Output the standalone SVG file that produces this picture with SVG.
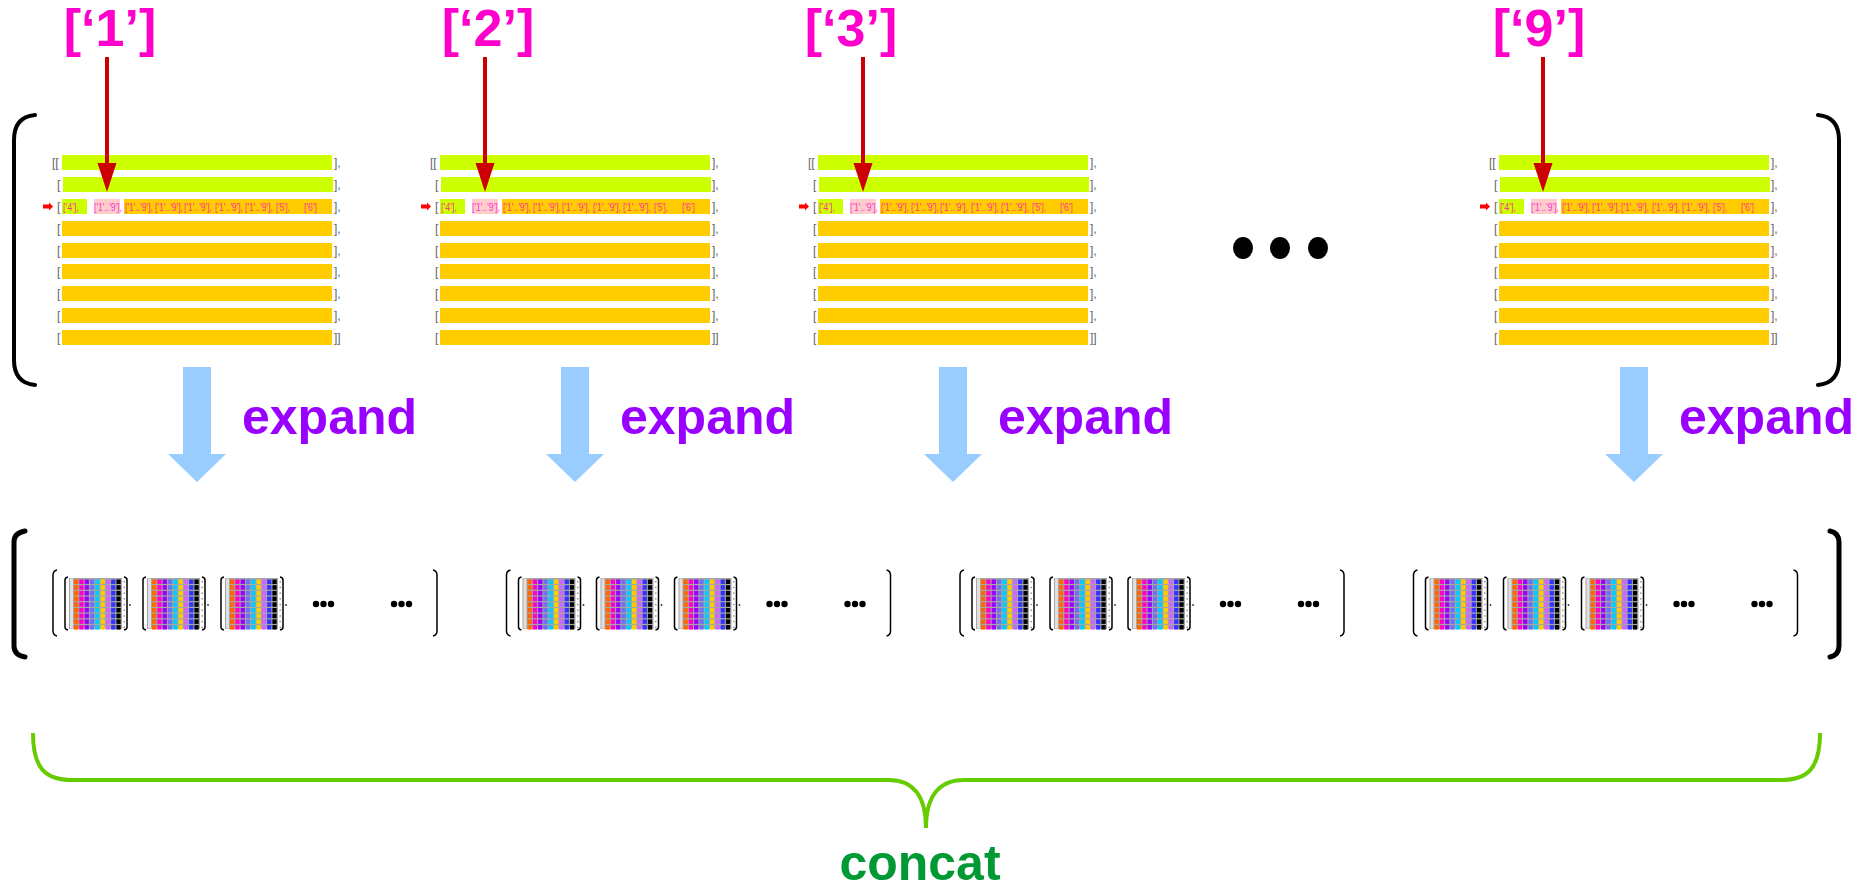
<svg xmlns="http://www.w3.org/2000/svg" xmlns:xlink="http://www.w3.org/1999/xlink" width="1871" height="891" viewBox="0 0 1871 891">
<style>
.lbl{font-family:"Liberation Sans",Arial,sans-serif;font-weight:bold;font-size:52px;fill:#ff00cc;text-anchor:middle}
.exp{font-family:"Liberation Sans",Arial,sans-serif;font-weight:bold;font-size:50px;fill:#9900ff}
.cat{font-family:"Liberation Sans",Arial,sans-serif;font-weight:bold;font-size:50px;fill:#009933;text-anchor:middle}
.br{font-family:"Liberation Sans",Arial,sans-serif;font-size:12px;fill:#666}
.t{font-family:"Liberation Sans",Arial,sans-serif;font-size:11px;fill:#ff3399}
.tp{font-family:"Liberation Sans",Arial,sans-serif;font-size:11px;fill:#ff33cc}
.g{fill:#ccff00}.o{fill:#ffcc00}.pk{fill:#ffcccc}
.redl{stroke:#cc0000;stroke-width:4;fill:none}
.redh{fill:#cc0000}
.blue{fill:#99ccff}
.big{stroke:#000;stroke-width:4;fill:none;stroke-linecap:round}
.bigb{stroke:#000;stroke-width:5;fill:none;stroke-linecap:round}
.thin{stroke:#000;stroke-width:1.5;fill:none}
.brace{stroke:#66cc00;stroke-width:4;fill:none}
</style>
<defs>
<g id="cellrow">
<rect x="9" width="4.3" height="4.5" fill="#ff6600"/>
<rect x="14.3" width="4.3" height="4.5" fill="#ff00cc"/>
<rect x="19.6" width="4.3" height="4.5" fill="#9900ff"/>
<rect x="24.9" width="4.3" height="4.5" fill="#6f6ff0"/>
<rect x="30.2" width="4.3" height="4.5" fill="#00ccff"/>
<rect x="35.5" width="4.3" height="4.5" fill="#ffcc00"/>
<rect x="40.8" width="4.3" height="4.5" fill="#cc66ff"/>
<rect x="46.1" width="4.3" height="4.5" fill="#3333ff"/>
<rect x="51.4" width="4.3" height="4.5" fill="#000"/>
<rect x="58.5" y="1.5" width="1.5" height="1.5" fill="#999"/>
</g>
<g id="mat">
<path d="M3,0 Q0,0.5 0,3 L0,50 Q0,52.5 3,53" class="thin" stroke-width="1"/>
<path d="M59,0 Q62,0.5 62,3 L62,50 Q62,52.5 59,53" class="thin" stroke-width="1"/>
<rect x="4" y="1" width="53" height="51" fill="#a6a6a6"/>
<rect x="5" y="1.5" width="3" height="50" fill="#e0e0e0"/>
<use xlink:href="#cellrow" y="2.5"/>
<use xlink:href="#cellrow" y="8.2"/>
<use xlink:href="#cellrow" y="13.9"/>
<use xlink:href="#cellrow" y="19.6"/>
<use xlink:href="#cellrow" y="25.3"/>
<use xlink:href="#cellrow" y="31"/>
<use xlink:href="#cellrow" y="36.7"/>
<use xlink:href="#cellrow" y="42.4"/>
<use xlink:href="#cellrow" y="48.1"/>
</g>
<g id="grp">
<path d="M57,570 Q53,571 53,575 L53,631 Q53,635 57,636" class="thin"/>
<path d="M433,570 Q437,571 437,575 L437,631 Q437,635 433,636" class="thin"/>
<use xlink:href="#mat" x="65" y="577"/>
<use xlink:href="#mat" x="143" y="577"/>
<use xlink:href="#mat" x="221" y="577"/>
<circle cx="130" cy="605" r="0.9" fill="#333"/>
<circle cx="208" cy="605" r="0.9" fill="#333"/>
<circle cx="286" cy="605" r="0.9" fill="#333"/>
<circle cx="316" cy="604" r="3.2"/><circle cx="323.5" cy="604" r="3.2"/><circle cx="331" cy="604" r="3.2"/>
<circle cx="394" cy="604" r="3.2"/><circle cx="401.5" cy="604" r="3.2"/><circle cx="409" cy="604" r="3.2"/>
</g>
<g id="panel">
<rect class="g" x="0" y="155" width="270" height="15"/>
<rect class="g" x="1" y="177" width="270" height="15"/>
<rect class="g" x="0" y="199" width="25" height="15"/>
<rect class="pk" x="32" y="199" width="26" height="15"/>
<rect class="o" x="62" y="199" width="208" height="15"/>
<rect class="o" x="0" y="221" width="270" height="15"/>
<rect class="o" x="0" y="243" width="270" height="15"/>
<rect class="o" x="0" y="264" width="270" height="15"/>
<rect class="o" x="0" y="286" width="270" height="15"/>
<rect class="o" x="0" y="308" width="270" height="15"/>
<rect class="o" x="0" y="330" width="270" height="15"/>
<text class="br" x="-10" y="167">[[</text>
<text class="br" x="-5" y="189">[</text>
<text class="br" x="-5" y="211">[</text>
<text class="br" x="-5" y="233">[</text>
<text class="br" x="-5" y="255">[</text>
<text class="br" x="-5" y="276">[</text>
<text class="br" x="-5" y="298">[</text>
<text class="br" x="-5" y="320">[</text>
<text class="br" x="-5" y="342">[</text>
<text class="br" x="272" y="167">],</text>
<text class="br" x="272" y="189">],</text>
<text class="br" x="272" y="211">],</text>
<text class="br" x="272" y="233">],</text>
<text class="br" x="272" y="255">],</text>
<text class="br" x="272" y="276">],</text>
<text class="br" x="272" y="298">],</text>
<text class="br" x="272" y="320">],</text>
<text class="br" x="272" y="342">]]</text>
<polygon points="-19,204.5 -13,204.5 -13,202.5 -9,206.5 -13,210.5 -13,208.5 -19,208.5" fill="#ff0000"/>
<text class="t" x="1" y="211" textLength="16" lengthAdjust="spacingAndGlyphs">['4'],</text>
<text class="tp" x="32" y="211" textLength="28" lengthAdjust="spacingAndGlyphs">['1'..'9'],</text>
<text class="t" x="63" y="211" textLength="28" lengthAdjust="spacingAndGlyphs">['1'..'9'],</text>
<text class="t" x="93" y="211" textLength="28" lengthAdjust="spacingAndGlyphs">['1'..'9'],</text>
<text class="t" x="122" y="211" textLength="28" lengthAdjust="spacingAndGlyphs">['1'..'9'],</text>
<text class="t" x="153" y="211" textLength="28" lengthAdjust="spacingAndGlyphs">['1'..'9'],</text>
<text class="t" x="183" y="211" textLength="28" lengthAdjust="spacingAndGlyphs">['1'..'9'],</text>
<text class="t" x="214" y="211" textLength="14" lengthAdjust="spacingAndGlyphs">['5'],</text>
<text class="t" x="242" y="211" textLength="13" lengthAdjust="spacingAndGlyphs">['6']</text>
</g>
<g id="pick">
<line x1="45" y1="57" x2="45" y2="165" class="redl"/>
<polygon points="35.5,163 54.5,163 45,192" class="redh"/>
</g>
<g id="expArrow">
<polygon points="121,367 149,367 149,454 164,454 135,482 106,454 121,454" class="blue"/>
<text class="exp" x="180" y="434">expand</text>
</g>
</defs>

<g id="input-brackets">
<path d="M35,115 Q14,117 14,140 L14,360 Q14,383 35,385" class="big"/>
<path d="M1818,115 Q1839,117 1839,140 L1839,360 Q1839,383 1818,385" class="big"/>
</g>

<g id="panel1"><use xlink:href="#panel" x="62"/></g>
<g id="panel2"><use xlink:href="#panel" x="440"/></g>
<g id="panel3"><use xlink:href="#panel" x="818"/></g>
<g id="panel9"><use xlink:href="#panel" x="1499"/></g>

<g id="dots">
<ellipse cx="1243" cy="248" rx="10" ry="11"/>
<ellipse cx="1280" cy="248" rx="10" ry="11"/>
<ellipse cx="1318" cy="248" rx="10" ry="11"/>
</g>

<g id="label1"><text class="lbl" x="110" y="46">[‘1’]</text></g>
<g id="label2"><text class="lbl" x="488" y="46">[‘2’]</text></g>
<g id="label3"><text class="lbl" x="851" y="46">[‘3’]</text></g>
<g id="label9"><text class="lbl" x="1539" y="46">[‘9’]</text></g>

<g id="connectors">
<use xlink:href="#pick" x="62"/>
<use xlink:href="#pick" x="440"/>
<use xlink:href="#pick" x="818"/>
<use xlink:href="#pick" x="1498"/>
<use xlink:href="#expArrow" x="62"/>
<use xlink:href="#expArrow" x="440"/>
<use xlink:href="#expArrow" x="818"/>
<use xlink:href="#expArrow" x="1499"/>
</g>

<g id="output-brackets">
<path d="M25,531 Q14,533 14,542 L14,646 Q14,655 25,657" class="bigb"/>
<path d="M1830,531 Q1839,533 1839,542 L1839,646 Q1839,655 1830,657" class="bigb"/>
</g>

<g id="out1"><use xlink:href="#grp" x="0"/></g>
<g id="out2"><use xlink:href="#grp" x="453.5"/></g>
<g id="out3"><use xlink:href="#grp" x="907"/></g>
<g id="out4"><use xlink:href="#grp" x="1360.5"/></g>

<g id="concat">
<path d="M33,733 C33,768 45,780 72,780 L889,780 C912,780 926,795 926,828 C926,795 940,780 964,780 L1781,780 C1808,780 1820,768 1820,733" class="brace"/>
<text class="cat" x="920" y="880">concat</text>
</g>
</svg>
